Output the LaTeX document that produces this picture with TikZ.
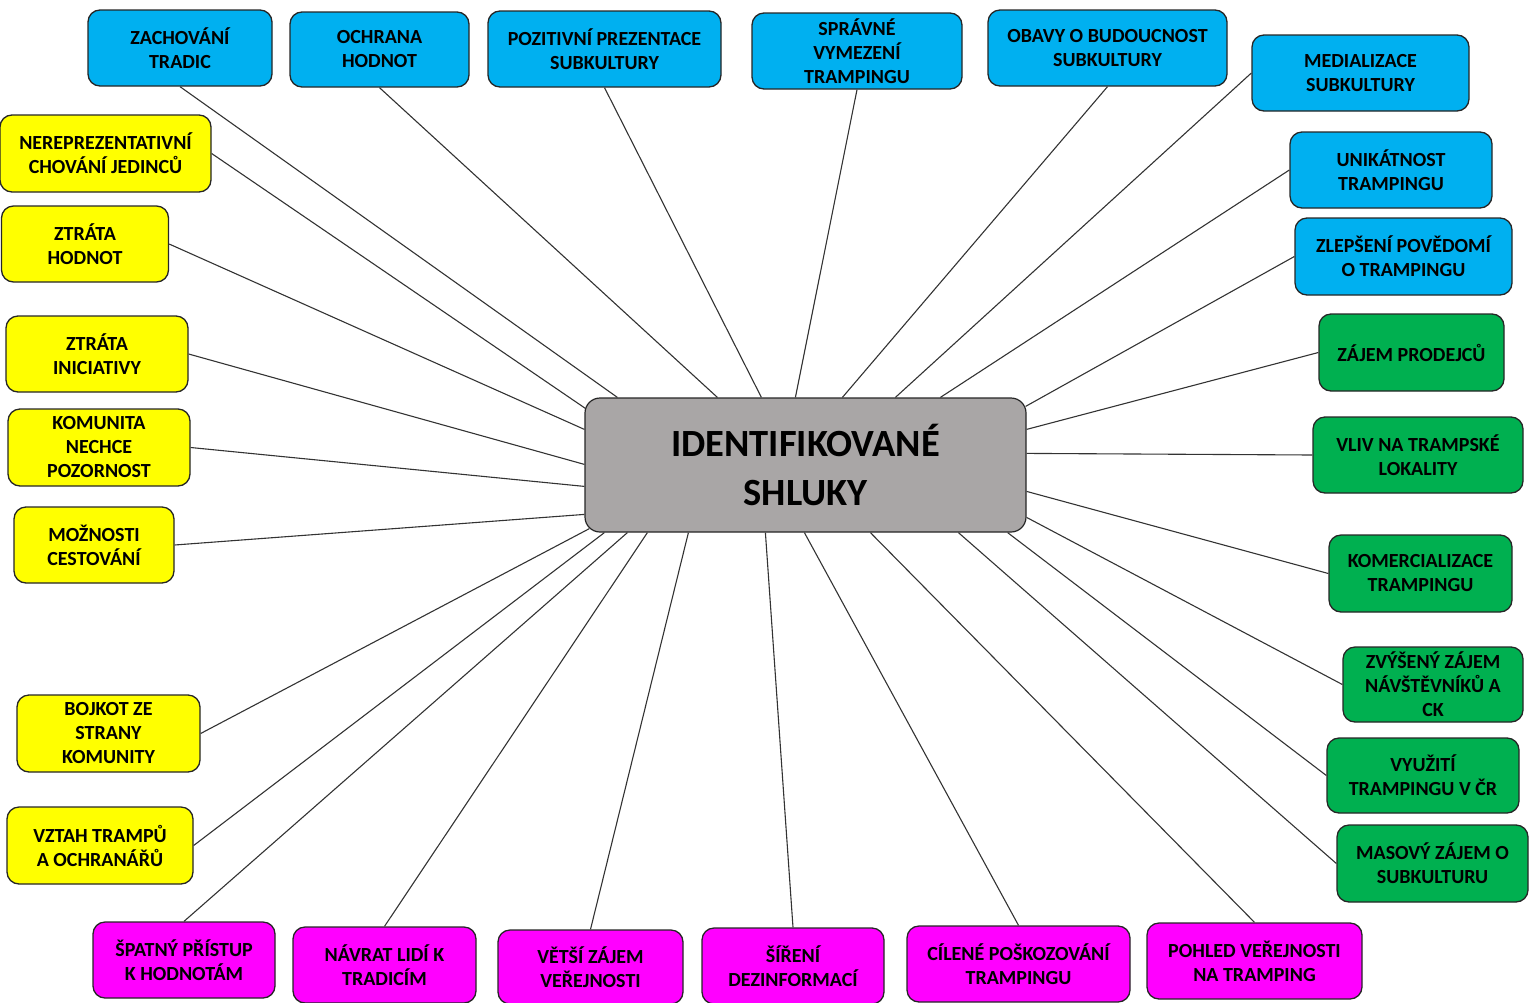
\documentclass[tikz,border=0pt]{standalone}
\usepackage{fontspec}
\setmainfont{Carlito}
\usepackage{xcolor}
\definecolor{shlukblue}{HTML}{00B0F0}
\definecolor{shlukyellow}{HTML}{FFFF00}
\definecolor{shlukgreen}{HTML}{00B050}
\definecolor{shlukmagenta}{HTML}{FF00FF}
\definecolor{shlukgray}{HTML}{A9A6A6}

\begin{document}
\begin{tikzpicture}[x=1pt,y=-1pt,
		shluk/.style={draw=black!85, line width=1.3pt, rounded corners=12pt, align=center, inner sep=2pt, text=black, font=\bfseries\fontsize{20}{24}\selectfont},
		modry/.style={shluk, fill=shlukblue},
		zluty/.style={shluk, fill=shlukyellow},
		zeleny/.style={shluk, fill=shlukgreen},
		fialovy/.style={shluk, fill=shlukmagenta},
		spoj/.style={line width=1.1pt, draw=black!80}]
		\useasboundingbox (0,0) rectangle (1537,1002);
		%
		\node (stred) [shluk, fill=shlukgray, line width=1.2pt, rounded corners=15pt, minimum width=441, minimum height=134, font=\bfseries\fontsize{38.5}{49}\selectfont] at (805.5,465) {IDENTIFIKOVANÉ\\SHLUKY};
		%
		\node (zachovani) [modry, minimum width=184, minimum height=76] at (180,48) {ZACHOVÁNÍ\\TRADIC};
		\node (ochrana) [modry, minimum width=179, minimum height=75] at (379.5,49.5) {OCHRANA\\HODNOT};
		\node (pozitivni) [modry, minimum width=233, minimum height=76] at (604.5,49) {POZITIVNÍ PREZENTACE\\SUBKULTURY};
		\node (spravne) [modry, minimum width=210, minimum height=76] at (857,51) {SPRÁVNÉ\\VYMEZENÍ\\TRAMPINGU};
		\node (obavy) [modry, minimum width=239, minimum height=76] at (1107.5,48) {OBAVY O BUDOUCNOST\\SUBKULTURY};
		\node (medializace) [modry, minimum width=217, minimum height=76] at (1360.5,73) {MEDIALIZACE\\SUBKULTURY};
		\node (unikatnost) [modry, minimum width=202, minimum height=76] at (1391,170) {UNIKÁTNOST\\TRAMPINGU};
		\node (zlepseni) [modry, minimum width=217, minimum height=77] at (1403.5,256.5) {ZLEPŠENÍ POVĚDOMÍ\\O TRAMPINGU};
		%
		\node (prodejci) [zeleny, minimum width=185, minimum height=77] at (1411.5,352.5) {ZÁJEM PRODEJCŮ};
		\node (vliv) [zeleny, minimum width=210, minimum height=76] at (1418,455) {VLIV NA TRAMPSKÉ\\LOKALITY};
		\node (komercializace) [zeleny, minimum width=183, minimum height=77] at (1420.5,573.5) {KOMERCIALIZACE\\TRAMPINGU};
		\node (navstevnici) [zeleny, minimum width=180, minimum height=75] at (1433,684.5) {ZVÝŠENÝ ZÁJEM\\NÁVŠTĚVNÍKŮ A\\CK};
		\node (vyuziti) [zeleny, minimum width=192, minimum height=75] at (1423,775.5) {VYUŽITÍ\\TRAMPINGU V ČR};
		\node (masovy) [zeleny, minimum width=191, minimum height=77] at (1432.5,863.5) {MASOVÝ ZÁJEM O\\SUBKULTURU};
		%
		\node (spatny) [fialovy, minimum width=182, minimum height=76] at (184,960) {ŠPATNÝ PŘÍSTUP\\K HODNOTÁM};
		\node (navrat) [fialovy, minimum width=183, minimum height=76] at (384.5,965) {NÁVRAT LIDÍ K\\TRADICÍM};
		\node (vetsi) [fialovy, minimum width=185, minimum height=74] at (590.5,967) {VĚTŠÍ ZÁJEM\\VEŘEJNOSTI};
		\node (sireni) [fialovy, minimum width=182, minimum height=76] at (793,966) {ŠÍŘENÍ\\DEZINFORMACÍ};
		\node (cilene) [fialovy, minimum width=223, minimum height=76] at (1018.5,964) {CÍLENÉ POŠKOZOVÁNÍ\\TRAMPINGU};
		\node (pohled) [fialovy, minimum width=215, minimum height=76] at (1254.5,961) {POHLED VEŘEJNOSTI\\NA TRAMPING};
		%
		\node (nereprez) [zluty, minimum width=211, minimum height=77] at (105.5,153.5) {NEREPREZENTATIVNÍ\\CHOVÁNÍ JEDINCŮ};
		\node (ztratahodnot) [zluty, minimum width=167, minimum height=76] at (85,244) {ZTRÁTA\\HODNOT};
		\node (ztratainic) [zluty, minimum width=182, minimum height=76] at (97,354) {ZTRÁTA\\INICIATIVY};
		\node (komunita) [zluty, minimum width=182, minimum height=77] at (99,447.5) {KOMUNITA\\NECHCE\\POZORNOST};
		\node (moznosti) [zluty, minimum width=160, minimum height=76] at (94,545) {MOŽNOSTI\\CESTOVÁNÍ};
		\node (bojkot) [zluty, minimum width=183, minimum height=77] at (108.5,733.5) {BOJKOT ZE\\STRANY\\KOMUNITY};
		\node (vztah) [zluty, minimum width=186, minimum height=77] at (100,845.5) {VZTAH TRAMPŮ\\A OCHRANÁŘŮ};
		%
		\draw [spoj] (zachovani.south) -- ([xshift=33pt]stred.north west);
		\draw [spoj] (ochrana.south) -- ([xshift=133pt]stred.north west);
		\draw [spoj] (pozitivni.south) -- ([xshift=177pt]stred.north west);
		\draw [spoj] (spravne.south) -- ([xshift=211pt]stred.north west);
		\draw [spoj] (obavy.south) -- ([xshift=258pt]stred.north west);
		\draw [spoj] (medializace.west) -- ([xshift=311pt]stred.north west);
		\draw [spoj] (unikatnost.west) -- ([xshift=356pt]stred.north west);
		\draw [spoj] (zlepseni.west) -- ([xshift=-1pt,yshift=-9pt]stred.north east);
		%
		\draw [spoj] (prodejci.west) -- ([yshift=-32pt]stred.north east);
		\draw [spoj] (vliv.west) -- ([yshift=-56pt]stred.north east);
		\draw [spoj] (komercializace.west) -- ([yshift=-94pt]stred.north east);
		\draw [spoj] (navstevnici.west) -- ([yshift=-120pt]stred.north east);
		\draw [spoj] (vyuziti.west) -- ([xshift=-19pt]stred.south east);
		\draw [spoj] (masovy.west) -- ([xshift=374pt]stred.south west);
		%
		\draw [spoj] (pohled.north) -- ([xshift=286pt]stred.south west);
		\draw [spoj] (cilene.north) -- ([xshift=220pt]stred.south west);
		\draw [spoj] (sireni.north) -- ([xshift=181pt]stred.south west);
		\draw [spoj] (vetsi.north) -- ([xshift=104pt]stred.south west);
		\draw [spoj] (navrat.north) -- ([xshift=63pt]stred.south west);
		\draw [spoj] (spatny.north) -- ([xshift=43pt]stred.south west);
		%
		\draw [spoj] (vztah.east) -- ([xshift=20pt]stred.south west);
		\draw [spoj] (bojkot.east) -- ([xshift=5pt,yshift=4pt]stred.south west);
		\draw [spoj] (moznosti.east) -- ([yshift=-117pt]stred.north west);
		\draw [spoj] (komunita.east) -- ([yshift=-89pt]stred.north west);
		\draw [spoj] (ztratainic.east) -- ([yshift=-67pt]stred.north west);
		\draw [spoj] (ztratahodnot.east) -- ([yshift=-32pt]stred.north west);
		\draw [spoj] (nereprez.east) -- ([xshift=1pt,yshift=-11pt]stred.north west);
	\end{tikzpicture}
\end{document}
